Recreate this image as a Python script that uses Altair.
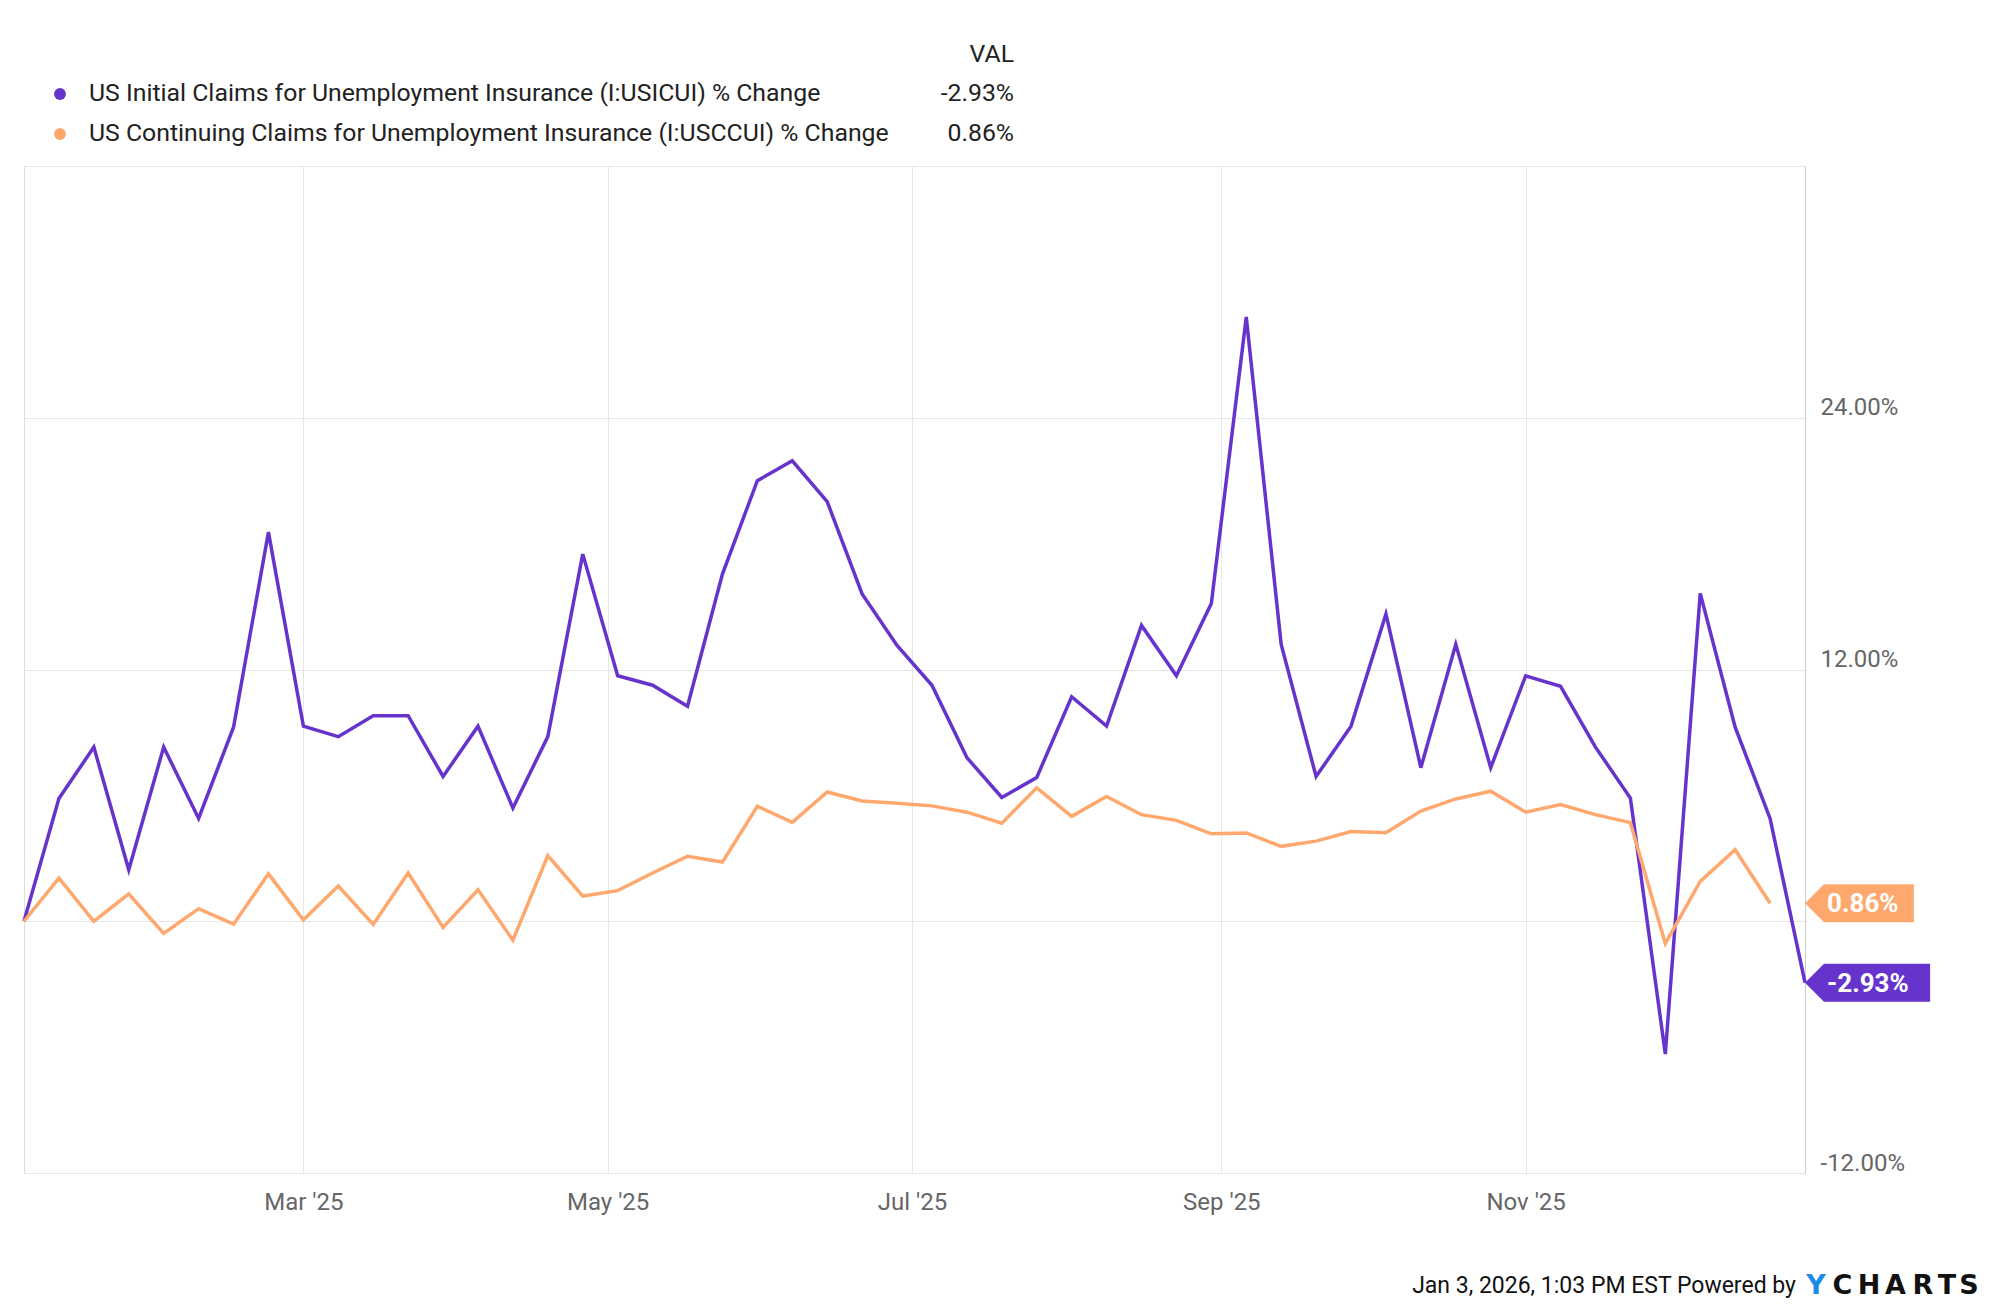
import altair as alt
import pandas as pd

names = [
    "US Initial Claims for Unemployment Insurance (I:USICUI) % Change",
    "US Continuing Claims for Unemployment Insurance (I:USCCUI) % Change",
]
colors = ["#6633cc", "#ffa86e"]

initial_vals = [0, 5.85, 8.3, 2.45, 8.3, 4.9, 9.25, 18.55, 9.3, 8.8,
                9.8, 9.8, 6.9, 9.3, 5.4, 8.8, 17.5, 11.7, 11.25, 10.25,
                16.55, 21.0, 21.95, 20.0, 15.6, 13.15, 11.25, 7.8, 5.9, 6.85,
                10.7, 9.3, 14.1, 11.7, 15.15, 28.8, 13.2, 6.9, 9.3, 14.65,
                7.32, 13.2, 7.32, 11.7, 11.2, 8.3, 5.87, -6.33, 15.63, 9.25,
                4.9, -2.93]
continuing_vals = [0, 2.06, 0.0, 1.3, -0.58, 0.6, -0.14, 2.26, 0.07, 1.68,
                   -0.15, 2.3, -0.29, 1.5, -0.9, 3.13, 1.2, 1.46, 2.3, 3.1,
                   2.82, 5.48, 4.71, 6.16, 5.73, 5.63, 5.5, 5.2, 4.67, 6.36,
                   5.0, 5.95, 5.08, 4.81, 4.17, 4.21, 3.57, 3.82, 4.28, 4.22,
                   5.25, 5.83, 6.2, 5.2, 5.56, 5.08, 4.7, -1.06, 1.9, 3.41,
                   0.86]
last_labels = ["-2.93%", "0.86%"]
y_ticks = [-12, 0, 12, 24, 36]
x_tick_months = [3, 5, 7, 9, 11]
footer_text = "Jan 3, 2026, 1:03 PM EST Powered by"
logo_letters = ["Y", "C", "H", "A", "R", "T", "S"]

dates = pd.date_range("2025-01-04", periods=52, freq="7D")
end_date = dates[-1].strftime("%Y-%m-%dT00:00:00")

df = pd.concat([
    pd.DataFrame({"date": dates[:len(initial_vals)].strftime("%Y-%m-%dT00:00:00"),
                  "value": initial_vals, "series": names[0]}),
    pd.DataFrame({"date": dates[:len(continuing_vals)].strftime("%Y-%m-%dT00:00:00"),
                  "value": continuing_vals, "series": names[1]}),
])

tags = pd.DataFrame({
    "date": [end_date, end_date],
    "value": [initial_vals[-1], continuing_vals[-1]],
    "series": names,
    "label": last_labels,
})

x_scale = alt.Scale(domain=[alt.DateTime(year=2025, month=1, date=4),
                            alt.DateTime(year=2025, month=12, date=27)])
y_scale = alt.Scale(domain=[-12, 36], nice=False, zero=False)
color_scale = alt.Scale(domain=names, range=colors)

x_enc = alt.X("date:T", scale=x_scale, title=None,
              axis=alt.Axis(values=[alt.DateTime(year=2025, month=m, date=1) for m in x_tick_months],
                            format="%b '%y", labelFontSize=24, labelColor="#666666",
                            labelFont="Roboto", grid=True, gridColor="#e6e6e6",
                            ticks=False, domain=False, labelPadding=17,
                            labelBaseline="top"))
y_enc = alt.Y("value:Q", scale=y_scale, title=None,
              axis=alt.Axis(orient="right", values=y_ticks,
                            labelExpr="datum.value == 0 || datum.value == 36 ? '' : "
                                      "(datum.value < 0 ? '-' + format(-datum.value, '.2f') : format(datum.value, '.2f')) + '%'",
                            labelFontSize=24, labelColor="#666666", labelFont="Roboto",
                            grid=True, gridColor="#e6e6e6", ticks=False,
                            domain=True, domainColor="#cccccc", labelPadding=15,
                            labelBaseline="alphabetic", labelOffset=-3))

lines = alt.Chart(df).mark_line(strokeWidth=3.5).encode(
    x=x_enc, y=y_enc,
    color=alt.Color("series:N", scale=color_scale, legend=None),
)

tag_paths = {
    names[0]: "M0,0 L0.633,-0.633 L4.17,-0.633 L4.17,0.633 L0.633,0.633 Z",
    names[1]: "M0,0 L0.633,-0.633 L3.63,-0.633 L3.63,0.633 L0.633,0.633 Z",
}
tag_layers = []
for nm in names:
    tag_layers.append(
        alt.Chart(tags).transform_filter(alt.datum.series == nm)
        .mark_point(shape=tag_paths[nm], filled=True, size=3600, opacity=1, strokeWidth=0)
        .encode(x="date:T", y="value:Q",
                color=alt.Color("series:N", scale=color_scale, legend=None))
    )
tag_text = alt.Chart(tags).mark_text(
    align="left", baseline="middle", dx=22, dy=1, fontSize=26, fontWeight="bold",
    font="Roboto", color="white"
).encode(x="date:T", y="value:Q", text="label:N")

# legend (header row + two series rows)
legend_layers = []
row_y = [-72, -32]
for i, nm in enumerate(names):
    one = pd.DataFrame({"series": [nm], "label": [nm], "val": [last_labels[i]]})
    legend_layers.append(
        alt.Chart(one).mark_circle(size=140, opacity=1).encode(
            x=alt.value(36), y=alt.value(row_y[i]),
            color=alt.Color("series:N", scale=color_scale, legend=None))
    )
    legend_layers.append(
        alt.Chart(one).mark_text(align="left", baseline="middle", fontSize=24.8,
                                 font="Roboto", color="#222222").encode(
            x=alt.value(65), y=alt.value(row_y[i]), text="label:N")
    )
    legend_layers.append(
        alt.Chart(one).mark_text(align="right", baseline="middle", fontSize=24.8,
                                 font="Roboto", color="#222222").encode(
            x=alt.value(990), y=alt.value(row_y[i]), text="val:N")
    )
header = alt.Chart(pd.DataFrame({"t": ["VAL"]})).mark_text(
    align="right", baseline="middle", fontSize=24.8, font="Roboto", color="#222222"
).encode(x=alt.value(990), y=alt.value(-111), text="t:N")

footer = alt.Chart(pd.DataFrame({"t": [footer_text]})).mark_text(
    align="right", baseline="alphabetic", fontSize=23, font="Roboto", color="#111111"
).encode(x=alt.value(1772), y=alt.value(1127), text="t:N")

logo_centers = [1792, 1818.5, 1845, 1871.5, 1899, 1923, 1945]
logo_layers = []
for letter, cx in zip(logo_letters, logo_centers):
    logo_layers.append(
        alt.Chart(pd.DataFrame({"t": [letter]})).mark_text(
            align="center", baseline="alphabetic", fontSize=27, font="DejaVu Sans",
            fontWeight="bold", color="#1e8be6" if letter == "Y" else "#111111"
        ).encode(x=alt.value(cx), y=alt.value(1128), text="t:N")
    )

chart = alt.layer(lines, *tag_layers, tag_text, *legend_layers, header,
                  footer, *logo_layers).properties(
    width=1781, height=1007,
    padding={"left": 16, "top": 158, "right": 187, "bottom": 135},
    autosize=alt.AutoSizeParams(type="none"),
).configure_view(stroke="#cccccc", strokeWidth=1.5).configure(background="white")

chart.save("out.html", embed_options={"renderer": "svg", "actions": False})
